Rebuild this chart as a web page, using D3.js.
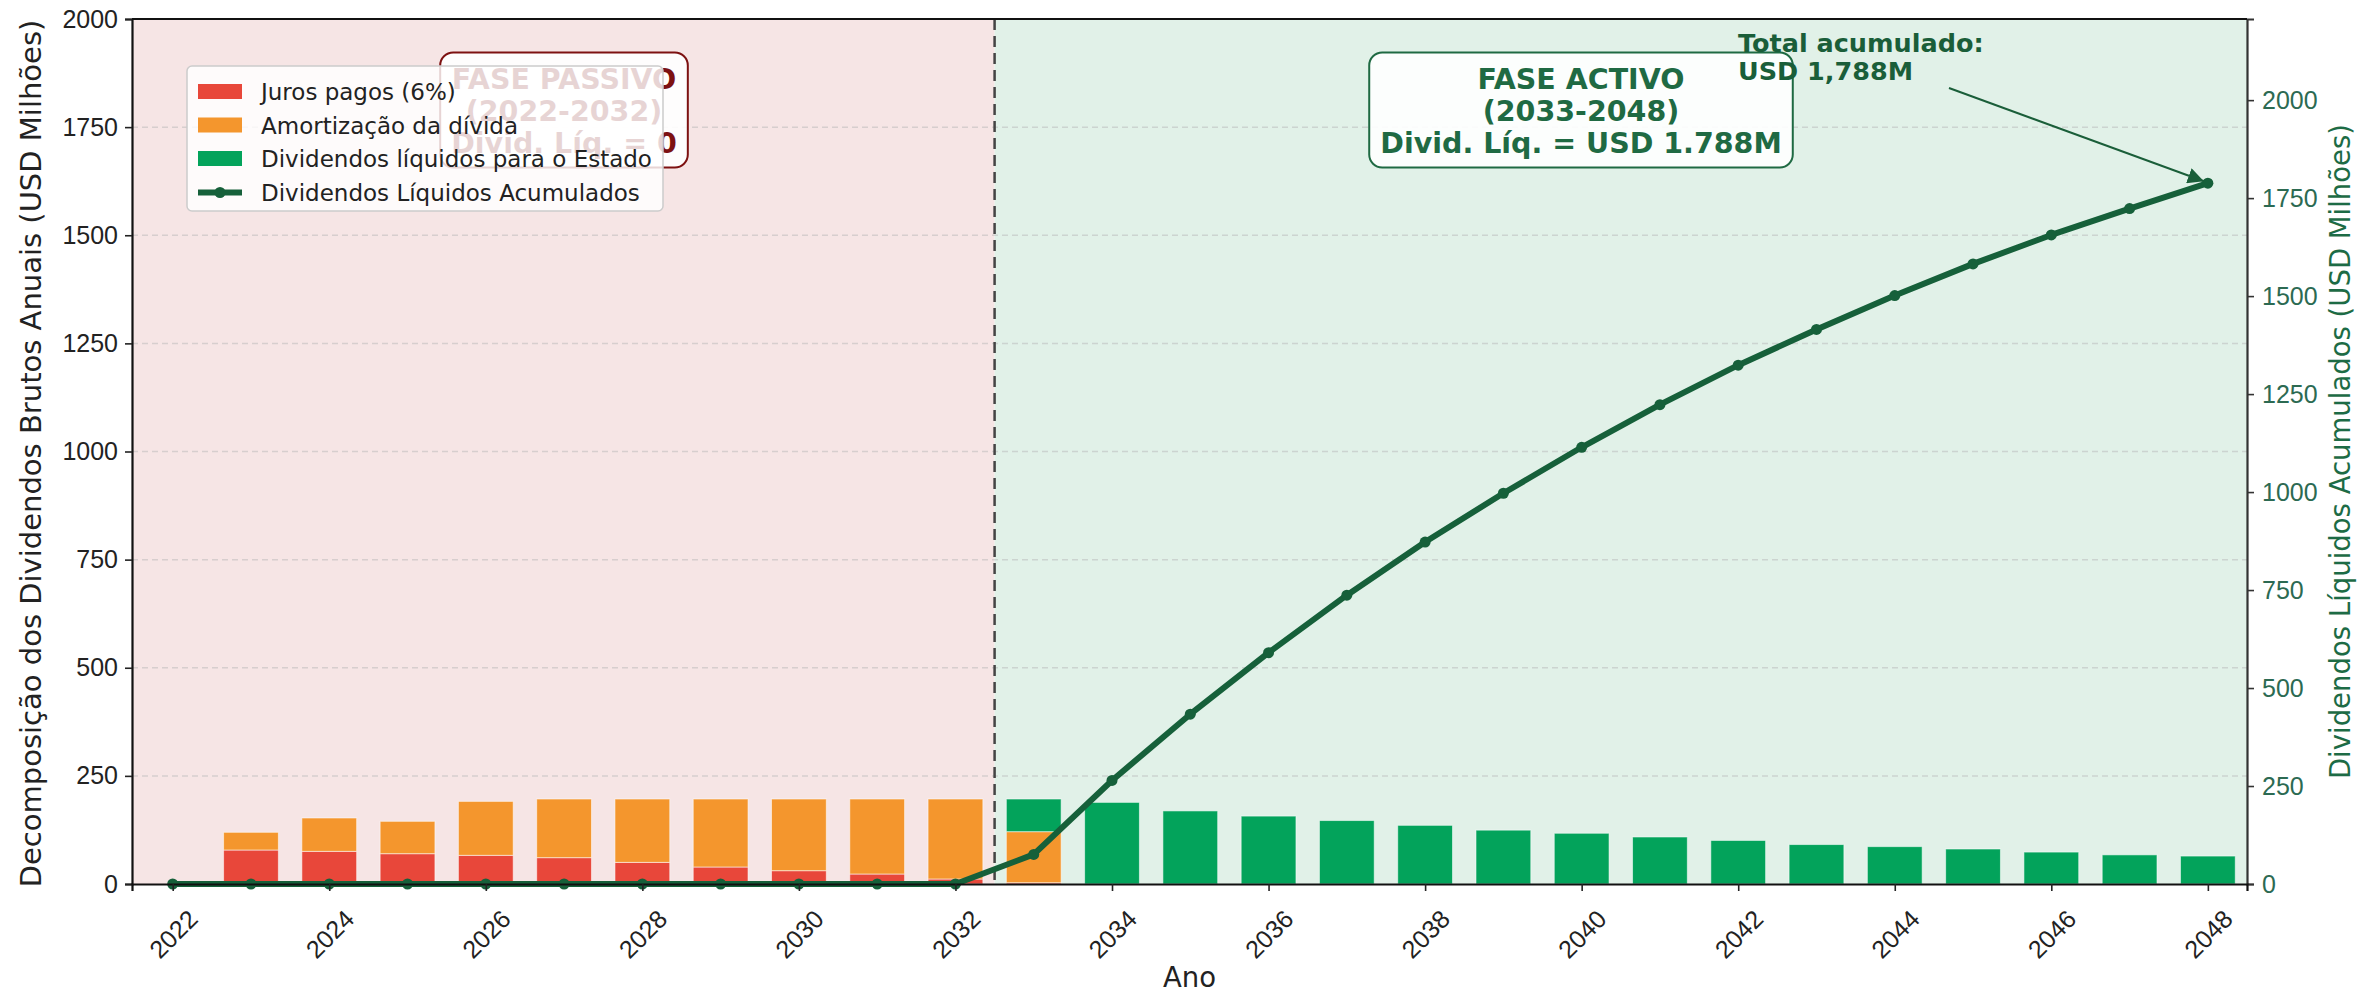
<!DOCTYPE html>
<html>
<head>
<meta charset="utf-8">
<script src="https://cdn.jsdelivr.net/npm/d3@7"></script>
<style>
  html, body { margin: 0; padding: 0; background: #ffffff; }
  svg { display: block; font-family: "DejaVu Sans", sans-serif; }
</style>
</head>
<body>
<svg id="chart" width="2363" height="992"></svg>
<script>
// Annual gross dividend breakdown (USD millions)
const years = [2022, 2023, 2024, 2025, 2026, 2027, 2028, 2029, 2030, 2031, 2032, 2033, 2034,
  2035, 2036, 2037, 2038, 2039, 2040, 2041, 2042, 2043, 2044, 2045, 2046, 2047, 2048];
const juros = [0, 78.6, 75.5, 70.1, 66.3, 60.9, 50.0, 39.3, 30.8, 23.1, 11.6, 3.0, 0,
  0, 0, 0, 0, 0, 0, 0, 0, 0, 0, 0, 0, 0, 0];
const amortizacao = [0, 40.9, 77.1, 74.8, 124.7, 135.6, 146.5, 157.2, 165.7, 173.4, 184.9, 118.0, 0,
  0, 0, 0, 0, 0, 0, 0, 0, 0, 0, 0, 0, 0, 0];
const dividendos = [0, 0, 0, 0, 0, 0, 0, 0, 0, 0, 0, 75.5, 188.7,
  169.0, 157.0, 146.7, 135.6, 124.5, 117.3, 108.7, 100.7, 91.2, 86.4, 80.9, 73.8, 67.4, 64.6];
// Accumulated net dividends to the State (USD millions)
const acumulado = [0, 0, 0, 0, 0, 0, 0, 0, 0, 0, 0, 75.5, 264.2,
  433.2, 590.2, 736.9, 872.5, 997.0, 1114.3, 1223.0, 1323.7, 1414.9, 1501.3, 1582.2, 1656.0, 1723.4, 1788.0];

const xTicks = [2022, 2024, 2026, 2028, 2030, 2032, 2034, 2036, 2038, 2040, 2042, 2044, 2046, 2048];
const leftTicks = [0, 250, 500, 750, 1000, 1250, 1500, 1750, 2000];
const rightTicks = [0, 250, 500, 750, 1000, 1250, 1500, 1750, 2000];
const seriesNames = ["Juros pagos (6%)", "Amortização da dívida", "Dividendos líquidos para o Estado"];
const lineName = "Dividendos Líquidos Acumulados";
const phaseSplit = 2032.5;
const totalFinal = 1788;

const C = {
  juros: "#e8473a",
  amort: "#f4962d",
  divid: "#03a35b",
  line: "#16603a",
  passivoBg: "#f6e5e5",
  activoBg: "#e1f1e8",
  red: "#7d1111",
  green: "#1a5e39"
};

const svg = d3.select("#chart");
const L = 132, R = 2247, T = 19, B = 884;

const x = d3.scaleLinear().domain([2021.48, 2048.5]).range([L, R]);
const yL = d3.scaleLinear().domain([0, 2000]).range([B, T]);
const yR = d3.scaleLinear().domain([0, 2207]).range([B, T]);
const barW = x(2022.7) - x(2022);

// phase backgrounds
svg.append("rect").attr("x", L).attr("y", T)
  .attr("width", x(phaseSplit) - L).attr("height", B - T).attr("fill", C.passivoBg);
svg.append("rect").attr("x", x(phaseSplit)).attr("y", T)
  .attr("width", R - x(phaseSplit)).attr("height", B - T).attr("fill", C.activoBg);

// horizontal grid
svg.append("g").selectAll("line").data(leftTicks.filter(d => d > 0 && d < 2000)).join("line")
  .attr("x1", L).attr("x2", R).attr("y1", d => yL(d)).attr("y2", d => yL(d))
  .attr("stroke", "#b8b8b8").attr("stroke-opacity", 0.5)
  .attr("stroke-width", 1.5).attr("stroke-dasharray", "6,4");

// stacked bars
const rows = years.map((yr, i) => ({ year: yr, juros: juros[i], amort: amortizacao[i], divid: dividendos[i] }));
const stack = d3.stack().keys(["juros", "amort", "divid"])(rows);
const colorOf = { juros: C.juros, amort: C.amort, divid: C.divid };
svg.append("g").selectAll("g").data(stack).join("g")
  .attr("fill", s => colorOf[s.key])
  .selectAll("rect").data(s => s.filter(d => d[1] - d[0] > 0)).join("rect")
  .attr("x", d => x(d.data.year) - barW / 2)
  .attr("width", barW)
  .attr("y", d => yL(d[1]))
  .attr("height", d => yL(d[0]) - yL(d[1]))
  .attr("stroke", "#ffffff").attr("stroke-opacity", 0.55).attr("stroke-width", 1);

// phase divider
svg.append("line").attr("x1", x(phaseSplit)).attr("x2", x(phaseSplit))
  .attr("y1", T).attr("y2", B)
  .attr("stroke", "#444").attr("stroke-width", 2.5).attr("stroke-dasharray", "11,6");

// cumulative line
const linePts = years.map((yr, i) => [yr, acumulado[i]]);
svg.append("path").datum(linePts)
  .attr("fill", "none").attr("stroke", C.line).attr("stroke-width", 6)
  .attr("stroke-linejoin", "round")
  .attr("d", d3.line().x(d => x(d[0])).y(d => yR(d[1])));
svg.append("g").selectAll("circle").data(linePts).join("circle")
  .attr("cx", d => x(d[0])).attr("cy", d => yR(d[1])).attr("r", 5.5).attr("fill", C.line);

// axes
const fontTick = "25px";
const gLeft = svg.append("g").attr("transform", `translate(${L},0)`)
  .call(d3.axisLeft(yL).tickValues(leftTicks).tickSize(7).tickPadding(7).tickFormat(d3.format("d")));
gLeft.selectAll("text").attr("font-size", fontTick).attr("fill", "#222");
gLeft.selectAll("line").attr("stroke", "#222").attr("stroke-width", 1.6);
gLeft.select(".domain").attr("stroke", "#111").attr("stroke-width", 2.2);

const gRight = svg.append("g").attr("transform", `translate(${R},0)`)
  .call(d3.axisRight(yR).tickValues(rightTicks).tickSize(7).tickPadding(8).tickFormat(d3.format("d")));
gRight.selectAll("text").attr("font-size", fontTick).attr("fill", "#2c6a52");
gRight.selectAll("line").attr("stroke", "#333").attr("stroke-width", 1.6);
gRight.select(".domain").attr("stroke", "#333").attr("stroke-width", 2.2);

const gBottom = svg.append("g").attr("transform", `translate(0,${B})`)
  .call(d3.axisBottom(x).tickValues(xTicks).tickSize(7).tickFormat(d3.format("d")));
gBottom.select(".domain").attr("stroke", "#111").attr("stroke-width", 2.2);
gBottom.selectAll("line").attr("stroke", "#222").attr("stroke-width", 1.6);
gBottom.selectAll("text")
  .attr("font-size", fontTick).attr("fill", "#222")
  .attr("text-anchor", "middle").attr("dy", null).attr("y", 0)
  .attr("dominant-baseline", "central")
  .attr("transform", "translate(0,50) rotate(-45)");

svg.append("line").attr("x1", L).attr("x2", R).attr("y1", T).attr("y2", T)
  .attr("stroke", "#111").attr("stroke-width", 2.2);

// axis titles
svg.append("text").attr("transform", `translate(31,${(T + B) / 2 + 2}) rotate(-90)`)
  .attr("text-anchor", "middle").attr("dominant-baseline", "central")
  .attr("font-size", "29px").attr("fill", "#222")
  .text("Decomposição dos Dividendos Brutos Anuais (USD Milhões)");
svg.append("text").attr("transform", `translate(2340,${(T + B) / 2}) rotate(-90)`)
  .attr("text-anchor", "middle").attr("dominant-baseline", "central")
  .attr("font-size", "27.5px").attr("fill", "#1d6b45")
  .text("Dividendos Líquidos Acumulados (USD Milhões)");
svg.append("text").attr("x", (L + R) / 2).attr("y", 977)
  .attr("text-anchor", "middle").attr("dominant-baseline", "central")
  .attr("font-size", "27.5px").attr("fill", "#222").text("Ano");

// phase annotation boxes
function phaseBox(cx, cy, lines, color, fill) {
  const g = svg.append("g");
  const rect = g.append("rect");
  const t = g.append("text").attr("text-anchor", "middle")
    .attr("font-size", "28.5px").attr("font-weight", "bold").attr("fill", color);
  const lh = 32;
  lines.forEach((s, i) => {
    t.append("tspan").attr("x", cx).attr("y", cy + (i - (lines.length - 1) / 2) * lh)
      .attr("dominant-baseline", "central").text(s);
  });
  const bb = t.node().getBBox();
  const pad = 11;
  rect.attr("x", bb.x - pad).attr("y", bb.y - 10)
    .attr("width", bb.width + 2 * pad).attr("height", bb.height + 18)
    .attr("rx", 13).attr("fill", fill).attr("fill-opacity", 0.9)
    .attr("stroke", color).attr("stroke-width", 2);
}
phaseBox(564, 111, ["FASE PASSIVO", "(2022-2032)", "Divid. Líq. = 0"], C.red, "#ffffff");
phaseBox(1581, 111, ["FASE ACTIVO", "(2033-2048)", "Divid. Líq. = USD 1.788M"], "#1f6a43", "#ffffff");

// total annotation with arrow
const defs = svg.append("defs");
defs.append("marker").attr("id", "arrowHead").attr("viewBox", "0 0 10 10")
  .attr("refX", 10).attr("refY", 5).attr("markerWidth", 8).attr("markerHeight", 8)
  .attr("orient", "auto-start-reverse")
  .append("path").attr("d", "M0,0 L10,5 L0,10 z").attr("fill", C.green);
const endX = x(years[years.length - 1]) - 4, endY = yR(totalFinal) - 2;
svg.append("line").attr("x1", 1949).attr("y1", 88).attr("x2", endX).attr("y2", endY)
  .attr("stroke", C.green).attr("stroke-width", 2).attr("marker-end", "url(#arrowHead)");
const tt = svg.append("text").attr("font-size", "25.5px").attr("font-weight", "bold").attr("fill", C.green);
tt.append("tspan").attr("x", 1738).attr("y", 43).attr("dominant-baseline", "central").text("Total acumulado:");
tt.append("tspan").attr("x", 1738).attr("y", 71).attr("dominant-baseline", "central").text("USD 1,788M");

// legend
const lg = svg.append("g").attr("transform", "translate(187,66)");
lg.append("rect").attr("width", 476).attr("height", 145).attr("rx", 5)
  .attr("fill", "#ffffff").attr("fill-opacity", 0.82)
  .attr("stroke", "#cccccc").attr("stroke-width", 1.5);
const legendItems = [
  { name: seriesNames[0], color: C.juros, type: "patch" },
  { name: seriesNames[1], color: C.amort, type: "patch" },
  { name: seriesNames[2], color: C.divid, type: "patch" },
  { name: lineName, color: C.line, type: "line" }
];
legendItems.forEach((it, i) => {
  const cy = 26 + i * 33.5;
  if (it.type === "patch") {
    lg.append("rect").attr("x", 11).attr("y", cy - 8).attr("width", 44).attr("height", 15).attr("fill", it.color);
  } else {
    lg.append("line").attr("x1", 11).attr("x2", 55).attr("y1", cy).attr("y2", cy)
      .attr("stroke", it.color).attr("stroke-width", 6);
    lg.append("circle").attr("cx", 33).attr("cy", cy).attr("r", 5.5).attr("fill", it.color);
  }
  lg.append("text").attr("x", 74).attr("y", cy).attr("dominant-baseline", "central")
    .attr("font-size", "23px").attr("fill", "#222").text(it.name);
});
</script>
</body>
</html>
